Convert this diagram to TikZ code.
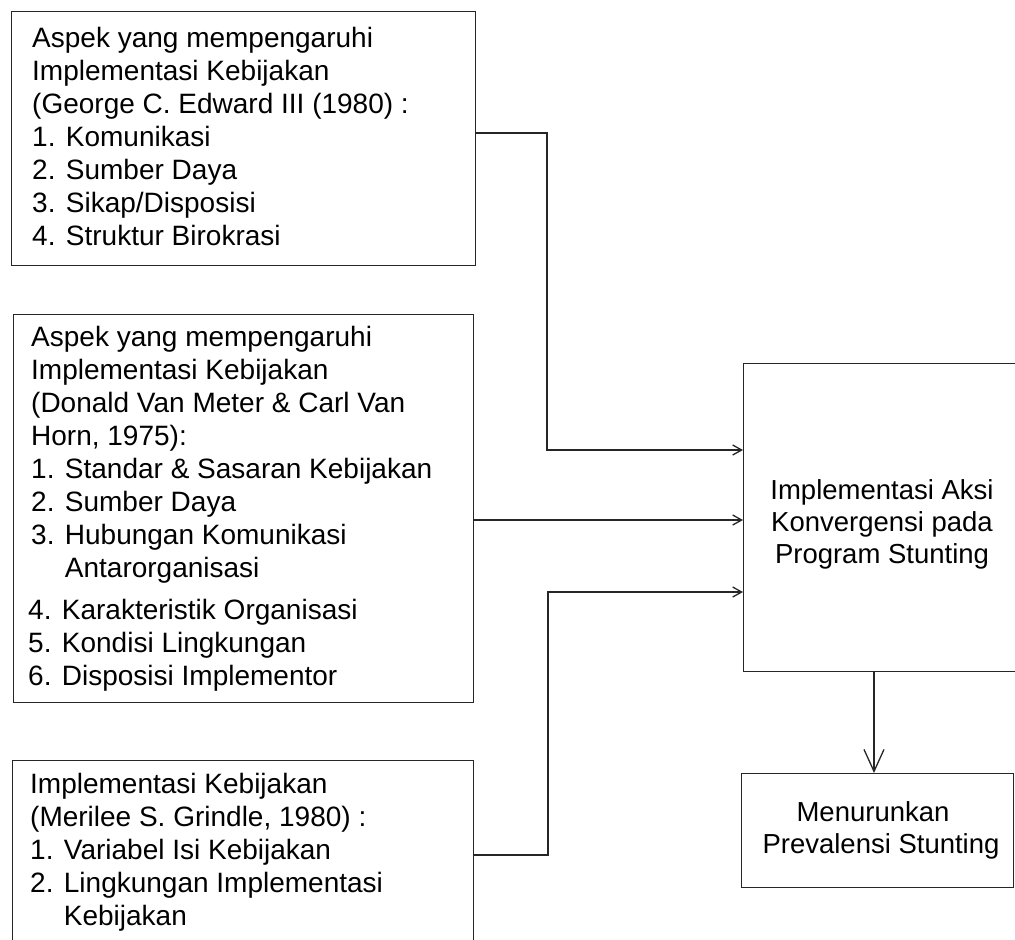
\documentclass[tikz,border=0pt]{standalone}
\usepackage{fontspec}
\setmainfont{Liberation Sans}
\usetikzlibrary{arrows.meta}

\begin{document}
\begin{tikzpicture}[x=1pt, y=-1pt, >={Straight Barb[length=9pt,width=10pt]}]

  \tikzset{
    kotak/.style={draw=black!85, line width=1.4pt, inner sep=0pt, anchor=north west},
    teks/.style={anchor=base west, inner sep=0pt, align=left, font=\fontsize{28}{33}\selectfont},
    tengah/.style={anchor=base, inner sep=0pt, align=center, font=\fontsize{27.5}{32}\selectfont},
    panah/.style={draw=black!85, line width=1.3pt, ->},
  }

  % Batas gambar
  \useasboundingbox (0,0) rectangle (1015,940);
  \clip (0,0) rectangle (1015,940);

  % 1. Kotak-kotak aspek di kiri (teks diletakkan pada baris terakhirnya)
  \node[kotak, minimum width=464, minimum height=254] (edward) at (11,11) {};
  \node[teks] (tEdward) at (32,245) {Aspek yang mempengaruhi\\
    Implementasi Kebijakan\\
    (George C. Edward III (1980) :\\
    1. Komunikasi\\
    2. Sumber Daya\\
    3. Sikap/Disposisi\\
    4. Struktur Birokrasi};

  \node[kotak, minimum width=460, minimum height=388] (vanmeter) at (13,314) {};
  \node[teks] (tVanmeter) at (31,685) {Aspek yang mempengaruhi\\
    Implementasi Kebijakan\\
    (Donald Van Meter \& Carl Van\\
    Horn, 1975):\\
    1. Standar \& Sasaran Kebijakan\\
    2. Sumber Daya\\
    3. Hubungan Komunikasi\\
    \phantom{3. }Antarorganisasi\\[9pt]
    \hspace*{-3pt}4. Karakteristik Organisasi\\
    \hspace*{-3pt}5. Kondisi Lingkungan\\
    \hspace*{-3pt}6. Disposisi Implementor};

  % kotak bawah terpotong oleh tepi gambar
  \node[kotak, minimum width=461, minimum height=260] (grindle) at (12,760) {};
  \node[teks] (tGrindle) at (30,925) {Implementasi Kebijakan\\
    (Merilee S. Grindle, 1980) :\\
    1. Variabel Isi Kebijakan\\
    2. Lingkungan Implementasi\\
    \phantom{2. }Kebijakan};

  % 2. Kotak implementasi dan hasil
  \node[kotak, minimum width=300, minimum height=308] (aksi) at (743,363) {};
  \node[tengah] (tAksi) at (882,563) {Implementasi Aksi\\
    Konvergensi pada\\
    Program Stunting};

  \node[kotak, minimum width=272, minimum height=114] (hasil) at (741,773) {};
  \node[tengah] (tHasil) at (881,853) {Menurunkan\hspace*{16pt}\\
    Prevalensi Stunting};

  % 3. Penghubung
  \draw[panah] (edward.east |- 0,133) -- (547,133) |- (aksi.west |- 0,450);
  \draw[panah] (vanmeter.east |- 0,520) -- (aksi.west |- 0,520);
  \draw[panah] (grindle.east |- 0,855) -- (548,855) |- (aksi.west |- 0,592);
  \draw[panah, >={Straight Barb[length=22pt,width=20pt]}] (aksi.south -| 874,0) -- (hasil.north -| 874,0);

\end{tikzpicture}
\end{document}
